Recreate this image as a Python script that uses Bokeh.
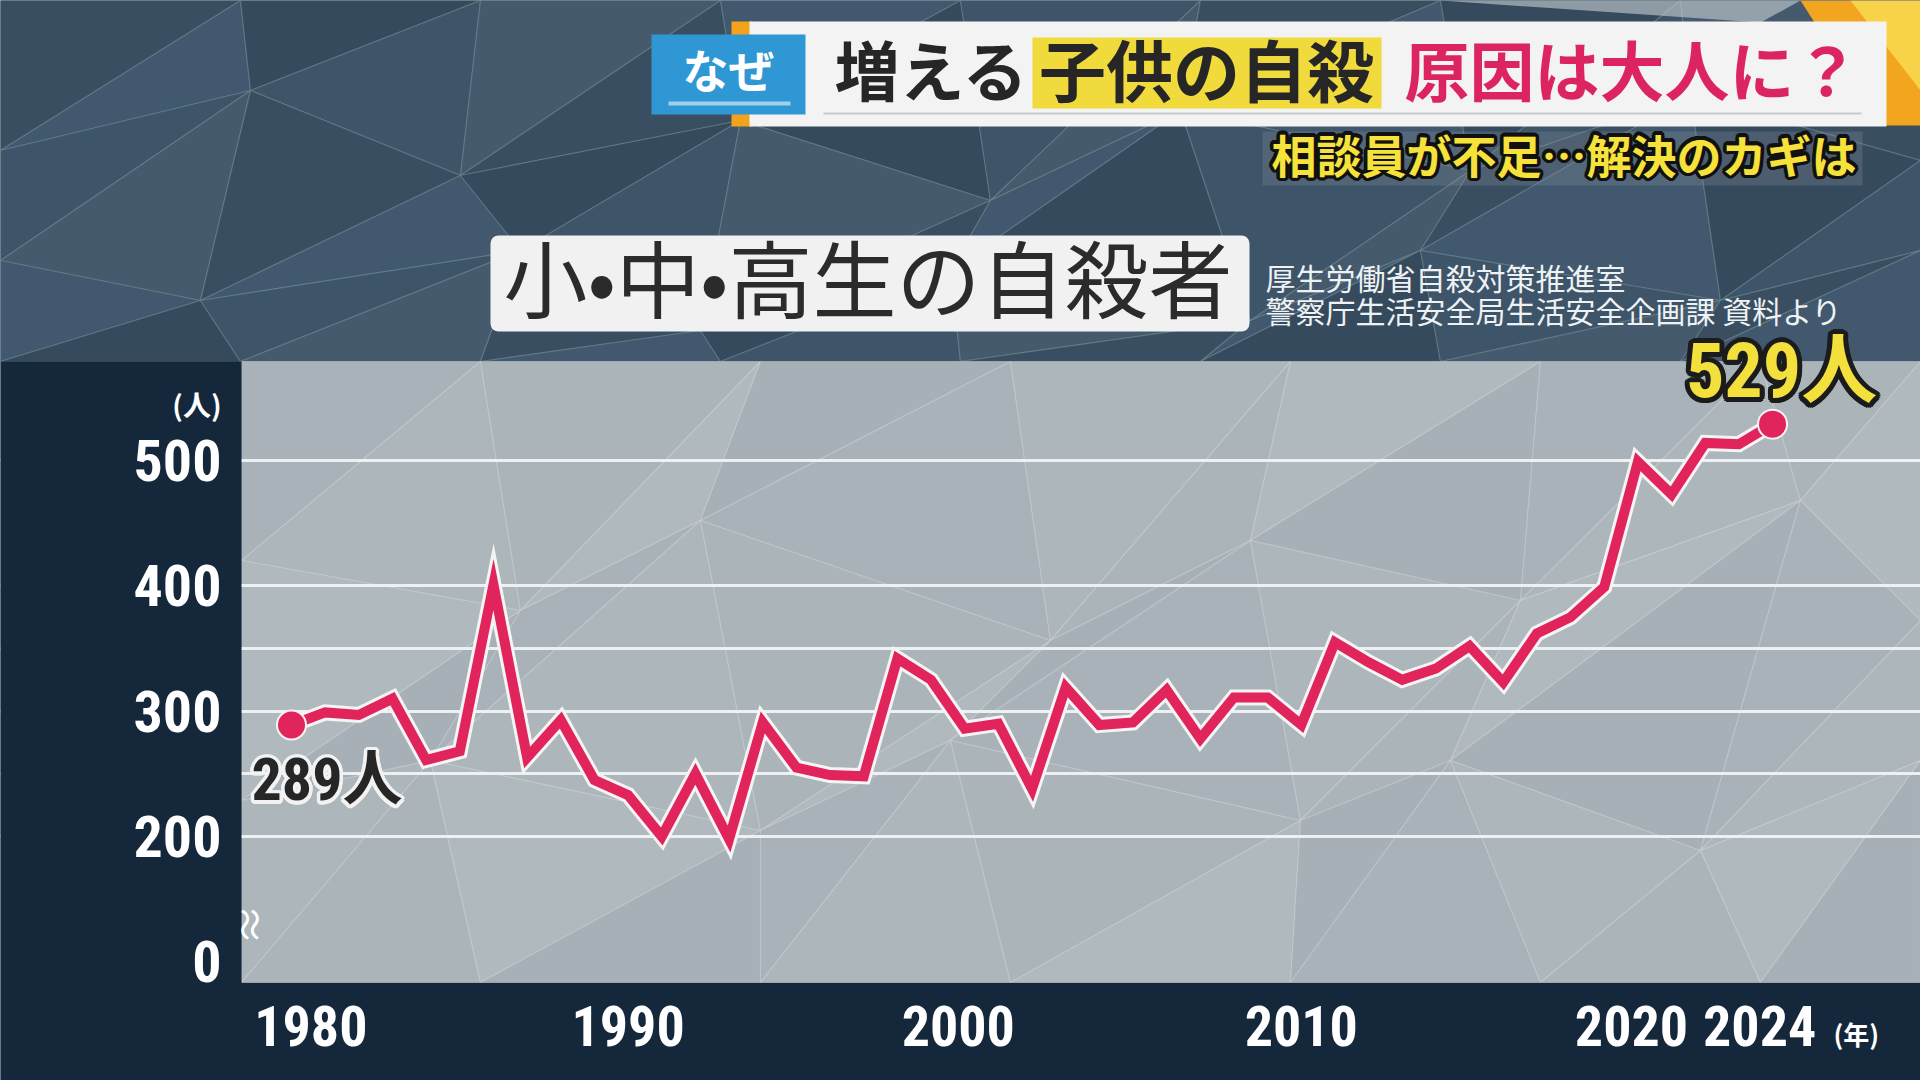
import math
from bokeh.plotting import figure
from bokeh.models import Range1d, FixedTicker, LinearAxis, Grid
from bokeh.core.properties import value
from bokeh.embed import file_html
from bokeh.resources import INLINE

# ---------------- data ----------------
years = list(range(1980, 2025))
counts = [289, 299, 297, 310, 261, 268, 401, 263, 293, 245,
          233, 200, 250, 198, 291, 255, 249, 248, 342, 325,
          286, 290, 238, 319, 289, 291, 317, 278, 311, 311,
          289, 355, 339, 325, 334, 352, 323, 362, 375, 399,
          499, 473, 514, 513, 529]
x_ticks = [1980, 1990, 2000, 2010, 2020, 2024]
x_tick_labels = {1980: "\u00a0\u00a0\u00a01980", 2000: "2000\u00a0",
                 2020: "2020\u00a0", 2024: "2024\u00a0\u00a0"}
y_ticks = [100, 200, 300, 400, 500]          # 100 is where the broken axis shows "0"
y_tick_labels = {100: "0", 200: "200", 300: "300", 400: "400", 500: "500"}
grid_values = [200, 250, 300, 350, 400, 500]

title_main = "小•中•高生の自殺者"
source_1 = "厚生労働省自殺対策推進室"
source_2 = "警察庁生活安全局生活安全企画課 資料より"
banner_tag = "なぜ"
banner_a = "増える"
banner_b = "子供の自殺"
banner_c = "原因は大人に？"
subtitle = "相談員が不足…解決のカギは"
unit_y = "(人)"
unit_x = "(年)"

# ---------------- layout helpers (page pixels -> data) ----------------
W, H = 1920, 1080
OFF = 0
PX_YEAR = 33.66      # pixels per year
PX_UNIT = 1.2533     # pixels per person


def xd(fx):
    return 1980 + (fx - 291) / PX_YEAR


def yd(fy):
    return 200 + (836 - fy) / PX_UNIT


JP = "'Noto Sans CJK JP', sans-serif"
NUM = ("'Roboto Condensed', 'DejaVu Sans Condensed', 'Liberation Sans Narrow', "
       "'Arial Narrow', 'Noto Sans CJK JP', sans-serif")

NAVY = "#15283b"
SLATE = "#3c5064"
GREY = "#a9b3b9"
CRIMSON = "#e1245b"

p = figure(width=W, height=H, output_backend="svg", toolbar_location=None,
           x_range=Range1d(xd(OFF), xd(OFF + W)), y_range=Range1d(yd(OFF + H), yd(OFF)),
           x_axis_location=None, y_axis_location=None, min_border=0)
p.background_fill_color = NAVY
p.border_fill_color = NAVY
p.outline_line_color = None
p.xgrid.visible = False
p.ygrid.visible = False


def box(x0, x1, y0, y1, color, alpha=1.0, level=None, radius=0):
    r = p.quad(left=[xd(x0)], right=[xd(x1)], top=[yd(y0)], bottom=[yd(y1)],
               fill_color=color, fill_alpha=alpha, line_color=None,
               border_radius=radius)
    if level:
        r.level = level
    return r


def txt(fx, fy, t, size, color, align="left", baseline="middle", bold=True,
        font=JP, angle=0.0, xo=0, yo=None, alpha=1.0):
    if yo is None:
        yo = -0.1 * size if font == JP else 0
    return p.text(x=[xd(fx)], y=[yd(fy)], text=[t], text_font=value(font),
                  text_font_size=f"{size}px", text_color=color, text_alpha=alpha,
                  text_align=align, text_baseline=baseline, angle=angle,
                  text_font_style="bold" if bold else "normal",
                  x_offset=xo, y_offset=yo)


def ring(r, n=16):
    return [(r * math.cos(2 * math.pi * k / n), r * math.sin(2 * math.pi * k / n)) for k in range(n)]


def mesh(rows, palette, edge_color, edge_alpha):
    xs, ys, cs = [], [], []
    for a in range(len(rows) - 1):
        ra, rb = rows[a], rows[a + 1]
        for i in range(len(ra) - 1):
            t1 = [ra[i], ra[i + 1], rb[i]]
            t2 = [ra[i + 1], rb[i + 1], rb[i]]
            for k, t in enumerate((t1, t2)):
                xs.append([xd(q[0]) for q in t])
                ys.append([yd(q[1]) for q in t])
                cs.append(palette[(a * 3 + i * 2 + k) % len(palette)])
    r = p.patches(xs, ys, fill_color=cs, line_color=edge_color, line_alpha=edge_alpha, line_width=1.2)
    r.level = "image"


# ---------------- backgrounds ----------------
box(OFF, OFF + W, OFF, 361, SLATE, level="image")
box(241, OFF + W, 361, 982, GREY, level="image")

head_rows = [
    [(0, 0), (240, 0), (480, 0), (720, 0), (960, 0), (1200, 0), (1440, 0), (1680, 0), (1920, 0)],
    [(0, 150), (250, 90), (460, 175), (740, 120), (990, 200), (1180, 110), (1470, 170), (1690, 95), (1920, 160)],
    [(0, 260), (200, 300), (520, 250), (700, 330), (950, 270), (1250, 320), (1420, 250), (1720, 300), (1920, 250)],
    [(0, 361), (240, 361), (480, 361), (720, 361), (960, 361), (1200, 361), (1440, 361), (1680, 361), (1920, 361)],
]
mesh(head_rows, ["#3a4e62", "#42586f", "#364a5d", "#3e5468", "#465a6d"], "#86a6a2", 0.35)

plot_rows = [
    [(241, 361), (480, 361), (760, 361), (1010, 361), (1290, 361), (1540, 361), (1760, 361), (1920, 361)],
    [(241, 560), (520, 610), (700, 520), (1050, 640), (1250, 540), (1520, 600), (1800, 500), (1920, 620)],
    [(241, 800), (430, 760), (760, 830), (950, 740), (1300, 820), (1450, 760), (1700, 850), (1920, 760)],
    [(241, 982), (480, 982), (760, 982), (1010, 982), (1290, 982), (1540, 982), (1760, 982), (1920, 982)],
]
mesh(plot_rows, ["#a8b2b8", "#adb6bb", "#aab4b9", "#b0b9bd", "#a6b0b6"], "white", 0.18)

# grid
grid = Grid(dimension=1, ticker=FixedTicker(ticks=grid_values),
            grid_line_color="#eef1f3", grid_line_width=3)
p.add_layout(grid)

# navy left panel over grid overflow
box(OFF, 241, 361, OFF + H, NAVY)

# ---------------- axes ----------------
xaxis = LinearAxis(ticker=FixedTicker(ticks=x_ticks), fixed_location=yd(982),
                   major_label_overrides=x_tick_labels)
yaxis = LinearAxis(ticker=FixedTicker(ticks=y_ticks), fixed_location=xd(241),
                   major_label_overrides=y_tick_labels)
for ax, sz, so in ((xaxis, 56, 5), (yaxis, 58, 14)):
    ax.axis_line_color = None
    ax.major_tick_line_color = None
    ax.minor_tick_line_color = None
    ax.major_label_text_color = "white"
    ax.major_label_text_font = NUM
    ax.major_label_text_font_style = "bold"
    ax.major_label_text_font_size = f"{sz}px"
    ax.major_label_standoff = so
p.add_layout(xaxis, "below")
p.add_layout(yaxis, "left")

txt(221, 406, unit_y, 28, "white", align="right")
txt(1833, 1036, unit_x, 26, "white")
txt(247, 928, "≈", 40, "white", align="center", angle=math.pi / 2, bold=False)

# ---------------- series ----------------
p.line(years, counts, line_width=16, line_color="#f4f4f4", line_join="miter")
p.line(years, counts, line_width=10, line_color=CRIMSON, line_join="miter")
p.scatter([years[0], years[-1]], [counts[0], counts[-1]], size=29,
          fill_color=CRIMSON, line_color="#f4f4f4", line_width=2)

# value labels
first_lbl = f"{counts[0]}人"
last_lbl = f"{counts[-1]}人"
for dx, dy in ring(3.5):
    p.text(x=[years[0]], y=[counts[0]], text=[first_lbl], text_font=value(NUM),
           text_font_size="60px", text_font_style="bold", text_color="#f2f2f2",
           text_align="left", text_baseline="middle", x_offset=-40 + dx, y_offset=55 + dy)
p.text(x=[years[0]], y=[counts[0]], text=[first_lbl], text_font=value(NUM),
       text_font_size="60px", text_font_style="bold", text_color="#262626",
       text_align="left", text_baseline="middle", x_offset=-40, y_offset=55)
for dx, dy in ring(5):
    p.text(x=[years[-1]], y=[counts[-1]], text=[last_lbl], text_font=value(NUM),
           text_font_size="76px", text_font_style="bold", text_color="#1c1c1c",
           text_align="center", text_baseline="middle", x_offset=9 + dx, y_offset=-53 + dy)
p.text(x=[years[-1]], y=[counts[-1]], text=[last_lbl], text_font=value(NUM),
       text_font_size="76px", text_font_style="bold", text_color="#f3e03c",
       text_align="center", text_baseline="middle", x_offset=9, y_offset=-53)

# ---------------- header ----------------
p.patch(x=[xd(1800), xd(1920), xd(1920), xd(1880)], y=[yd(0), yd(0), yd(125), yd(125)],
        fill_color="#f2a51e", line_color=None)
p.patch(x=[xd(1850), xd(1920), xd(1920)], y=[yd(0), yd(0), yd(90)],
        fill_color="#f8d34a", line_color=None)
p.patch(x=[xd(1440), xd(1800), xd(1760)], y=[yd(0), yd(0), yd(22)],
        fill_color="#c9d0d4", fill_alpha=0.6, line_color=None)

box(731, 752, 21, 126, "#f3a21c")
box(749, 1886, 21, 126, "#f3f3f3")
box(823, 1861, 112, 114, "#c9c9c9")
box(651, 805, 34, 114, "#2f97d3")
box(668, 790, 101, 105, "#a3d0ec")
txt(728, 72, banner_tag, 46, "white", align="center")
txt(834, 74, banner_a, 65, "#262626")
box(1032, 1381, 37, 108, "#f0da3c")
txt(1206, 74, banner_b, 67, "#262626", align="center")
txt(1404, 74, banner_c, 65, "#dc2560")

box(1262, 1862, 131, 185, "#8d99a3", alpha=0.25)
for dx, dy in ring(3.5):
    txt(1856, 158, subtitle, 45, "#111111", align="right", xo=dx, yo=-4.5 + dy)
txt(1856, 158, subtitle, 45, "#f6e23a", align="right")

box(490, 1249, 235, 331, "#f1f1f1", radius=8)
txt(503, 283, title_main, 84, "#2b2b2b", bold=False)
txt(1265, 279, source_1, 30, "#eef2f4", bold=False)
txt(1265, 312, source_2, 30, "#eef2f4", bold=False)

open("out.html", "w").write(file_html(p, INLINE))
